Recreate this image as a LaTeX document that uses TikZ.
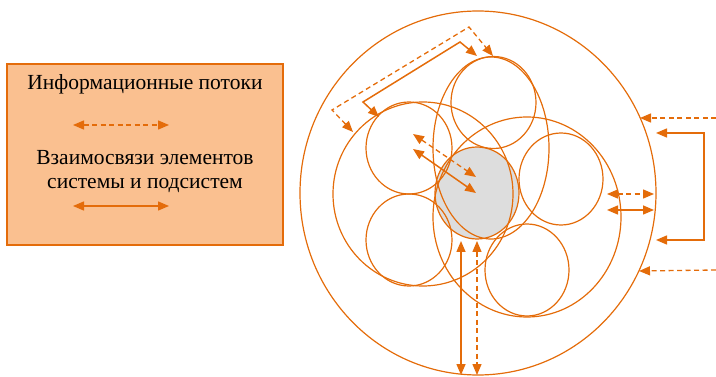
\documentclass[tikz,border=0pt]{standalone}
\usepackage{fontspec}
\setmainfont{Liberation Serif}
\newfontfamily\legendfont{Liberation Serif}
\usetikzlibrary{arrows.meta}
\definecolor{org}{RGB}{228,108,10}
\definecolor{peach}{RGB}{250,192,144}
\definecolor{grayf}{RGB}{221,221,221}
\begin{document}
\begin{tikzpicture}[x=1pt,y=-1pt,
  ring/.style={draw=org, line width=1.2pt},
  flow/.style={draw=org, line width=1.3pt, dash pattern=on 5pt off 3.5pt},
  bond/.style={draw=org, line width=1.5pt},
  one/.style={-{Triangle[length=11pt,width=9pt]}},
  two/.style={{Triangle[length=11pt,width=9pt]}-{Triangle[length=11pt,width=9pt]}},
  lbl/.style={font=\legendfont\fontsize{21.5}{24}\selectfont, text=black, align=center, inner sep=0pt}]
\useasboundingbox (0,0) rectangle (716,377);

% legend
\node (legend) [draw=org, line width=1.2pt, fill=peach, minimum width=276pt, minimum height=181pt, inner sep=0pt] at (145,154.5) {};
\node (t1) [lbl] at (145,84) {Информационные потоки};
\node (t2) [lbl] at (145,172) {Взаимосвязи элементов\\системы и подсистем};
\coordinate (la1) at (73,125); \coordinate (la2) at (169,125);
\coordinate (lb1) at (73,206); \coordinate (lb2) at (169,206);
\draw[flow,two] (la1) -- (la2);
\draw[bond,two] (lb1) -- (lb2);

% core element
\fill[grayf] (477,193) ellipse [x radius=42pt, y radius=46pt];
\draw[ring] (477,193) ellipse [x radius=42pt, y radius=46pt];

% system boundary
\draw[ring] (478,193) ellipse [x radius=178pt, y radius=182pt];

% subsystems
\draw[ring] (423,194) ellipse [x radius=90pt, y radius=92pt];
\draw[ring] (527,217) ellipse [x radius=94pt, y radius=100pt];
\draw[ring] (491,148) ellipse [x radius=58pt, y radius=91pt];

% elements
\draw[ring] (493.5,102.5) ellipse [x radius=42.5pt, y radius=46pt];
\draw[ring] (409,148) ellipse [x radius=43pt, y radius=46pt];
\draw[ring] (409,240) ellipse [x radius=43pt, y radius=46pt];
\draw[ring] (561,179) ellipse [x radius=42pt, y radius=46pt];
\draw[ring] (527,270) ellipse [x radius=42pt, y radius=46pt];

% coordinates of connectors
\coordinate (da) at (353,132); \coordinate (db) at (493,56);
\coordinate (sa) at (379,117); \coordinate (sb) at (477,56);
\coordinate (dg1) at (413,134); \coordinate (dg2) at (476,177);
\coordinate (sg1) at (413,149); \coordinate (sg2) at (476,193);
\coordinate (rd1s) at (716,118); \coordinate (rd1e) at (640,118);
\coordinate (rd2s) at (716,270); \coordinate (rd2e) at (639,271);
\coordinate (rbA) at (656,133); \coordinate (rbB) at (656,240);
\coordinate (md1) at (607,194); \coordinate (md2) at (654,194);
\coordinate (ms1) at (607,210); \coordinate (ms2) at (654,210);
\coordinate (bs1) at (461,241); \coordinate (bs2) at (461,375);
\coordinate (bd1) at (477,241); \coordinate (bd2) at (477,375);

% connectors
\draw[flow,two] (da) -- (332,110) -- (469,27) -- (db);
\draw[bond,two] (sa) -- (363,102) -- (460,42) -- (sb);
\draw[flow,two] (dg1) -- (dg2);
\draw[bond,two] (sg1) -- (sg2);
\draw[flow,one] (rd1s) -- (rd1e);
\draw[flow,one] (rd2s) -- (rd2e);
\draw[bond,two] (rbA) -- (704,133) -- (704,240) -- (rbB);
\draw[flow,two] (md1) -- (md2);
\draw[bond,two] (ms1) -- (ms2);
\draw[bond,two] (bs1) -- (bs2);
\draw[flow,two] (bd1) -- (bd2);
\end{tikzpicture}
\end{document}
